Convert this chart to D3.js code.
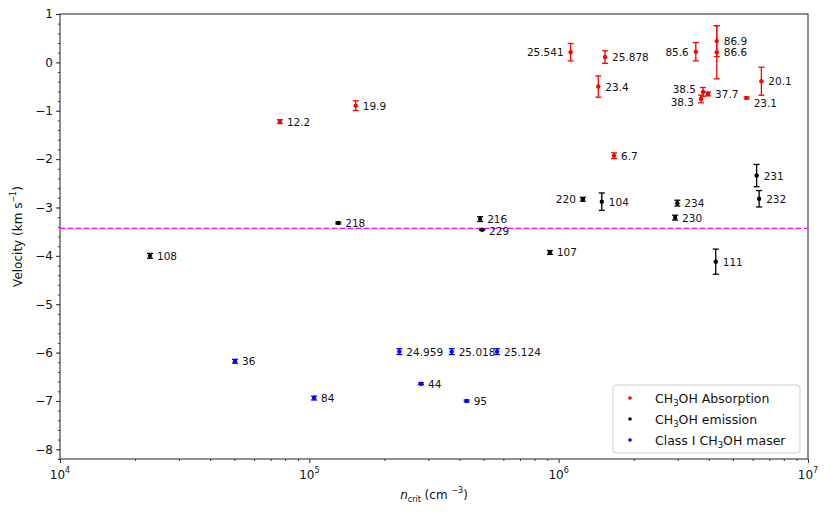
<!DOCTYPE html>
<html>
<head>
<meta charset="utf-8">
<script src="https://cdn.jsdelivr.net/npm/d3@7"></script>
<style>
  body { margin: 0; background: #fff; }
  text { font-family: "DejaVu Sans", sans-serif; }
</style>
</head>
<body>
<div id="chart"></div>
<script>
// ---- data ----
// log10 of critical density, velocity, error, label
const absLogN = [6.048, 6.186, 6.159, 6.55, 6.634, 6.634, 6.813, 6.754, 6.579, 6.571, 6.599, 6.222, 5.186, 4.882];
const absVel  = [0.21, 0.11, -0.50, 0.22, 0.44, 0.21, -0.39, -0.735, -0.61, -0.756, -0.653, -1.93, -0.895, -1.225];
const absErr  = [0.18, 0.13, 0.22, 0.19, 0.32, 0.55, 0.29, 0.02, 0.09, 0.08, 0.04, 0.06, 0.10, 0.04];
const absLab  = ['25.541', '25.878', '23.4', '85.6', '86.9', '86.6', '20.1', '23.1', '38.5', '38.3', '37.7', '6.7', '19.9', '12.2'];

const emiLogN = [5.116, 4.361, 5.685, 5.693, 5.965, 6.097, 6.173, 6.476, 6.467, 6.794, 6.804, 6.63];
const emiVel  = [-3.32, -4.0, -3.24, -3.46, -3.93, -2.83, -2.88, -2.91, -3.21, -2.34, -2.82, -4.12];
const emiErr  = [0.02, 0.05, 0.05, 0.01, 0.04, 0.04, 0.18, 0.06, 0.05, 0.23, 0.17, 0.26];
const emiLab  = ['218', '108', '216', '229', '107', '220', '104', '234', '230', '231', '232', '111'];

const masLogN = [4.702, 5.019, 5.361, 5.571, 5.753, 5.448, 5.631];
const masVel  = [-6.18, -6.94, -5.98, -5.98, -5.98, -6.645, -7.0];
const masErr  = [0.04, 0.04, 0.06, 0.06, 0.06, 0.02, 0.02];
const masLab  = ['36', '84', '24.959', '25.018', '25.124', '44', '95'];

const systemicVel = -3.43;
const yTicks = [1, 0, -1, -2, -3, -4, -5, -6, -7, -8];
const xTicks = [4, 5, 6, 7];

// labels that sit on the left of their point, and a few nudged up/down
const leftLabels = ['25.541', '85.6', '220', '38.5', '38.3'];
const labelNudge = { '23.1': 5, '38.5': -3, '38.3': 3, '229': 1 };

const width = 830, height = 514;
const margin = { left: 60, right: 22, top: 14, bottom: 55 };

const svg = d3.select('#chart').append('svg')
    .attr('width', width).attr('height', height);

const x = d3.scaleLog().domain([1e4, 1e7]).range([margin.left, width - margin.right]);
const y = d3.scaleLinear().domain([-8.2, 1]).range([height - margin.bottom, margin.top]);

// axes
const xMinor = [];
for (let e = 4; e < 7; e++) for (let k = 2; k <= 9; k++) xMinor.push(k * Math.pow(10, e));
const yMinor = d3.range(-8.2, 1.0001, 0.2).map(v => Math.round(v * 10) / 10);

svg.append('g').attr('transform', `translate(0,${y(-8.2)})`)
    .call(d3.axisBottom(x).tickValues(xMinor).tickSize(2).tickFormat(''));
svg.append('g').attr('transform', `translate(0,${y(-8.2)})`)
    .call(d3.axisBottom(x).tickValues(xTicks.map(e => Math.pow(10, e))).tickSize(4).tickFormat(''));
xTicks.forEach(e => {
  const t = svg.append('text')
      .attr('x', x(Math.pow(10, e))).attr('y', y(-8.2) + 20)
      .attr('text-anchor', 'middle').attr('font-size', 12).attr('fill', '#111');
  t.append('tspan').text('10');
  t.append('tspan').attr('font-size', 8).attr('dy', -6).text(e);
});

svg.append('g').attr('transform', `translate(${margin.left},0)`)
    .call(d3.axisLeft(y).tickValues(yMinor).tickSize(2).tickFormat(''));
svg.append('g').attr('transform', `translate(${margin.left},0)`)
    .call(d3.axisLeft(y).tickValues(yTicks).tickSize(4)
      .tickFormat(d => d < 0 ? '\u2212' + Math.abs(d) : d))
    .call(g => g.selectAll('text').attr('font-size', 12).attr('fill', '#111')
      .attr('font-family', '"DejaVu Sans", sans-serif'));

svg.selectAll('.domain').remove();
svg.selectAll('.tick line').attr('stroke', '#333');

// frame
svg.append('rect')
    .attr('x', margin.left).attr('y', margin.top)
    .attr('width', width - margin.right - margin.left)
    .attr('height', y(-8.2) - margin.top)
    .attr('fill', 'none').attr('stroke', '#444').attr('stroke-width', 1.2);

// systemic velocity line
svg.append('line')
    .attr('x1', margin.left).attr('x2', width - margin.right)
    .attr('y1', y(systemicVel)).attr('y2', y(systemicVel))
    .attr('stroke', '#ff00ff').attr('stroke-width', 1.2).attr('stroke-dasharray', '5,3');

// series
function drawSeries(logN, vel, err, lab, color) {
  const pts = logN.map((n, i) => ({ n: Math.pow(10, n), v: vel[i], e: err[i], l: lab[i] }));
  const g = svg.append('g');
  const eb = g.selectAll('g.eb').data(pts).enter().append('g')
      .attr('stroke', color).attr('stroke-width', 1.3);
  eb.append('line')
      .attr('x1', d => x(d.n)).attr('x2', d => x(d.n))
      .attr('y1', d => y(d.v + d.e)).attr('y2', d => y(d.v - d.e));
  [1, -1].forEach(s => {
    eb.append('line')
        .attr('x1', d => x(d.n) - 3).attr('x2', d => x(d.n) + 3)
        .attr('y1', d => y(d.v + s * d.e)).attr('y2', d => y(d.v + s * d.e));
  });
  g.selectAll('circle').data(pts).enter().append('circle')
      .attr('cx', d => x(d.n)).attr('cy', d => y(d.v)).attr('r', 2.2)
      .attr('fill', color);
  g.selectAll('text').data(pts).enter().append('text')
      .attr('x', d => leftLabels.includes(d.l) ? x(d.n) - 7 : x(d.n) + 7)
      .attr('y', d => y(d.v) + 4 + (labelNudge[d.l] || 0))
      .attr('text-anchor', d => leftLabels.includes(d.l) ? 'end' : 'start')
      .attr('font-size', 10.5).attr('fill', '#111')
      .text(d => d.l);
}
drawSeries(absLogN, absVel, absErr, absLab, '#ff0000');
drawSeries(emiLogN, emiVel, emiErr, emiLab, '#000000');
drawSeries(masLogN, masVel, masErr, masLab, '#0000ff');

// axis titles
const xt = svg.append('text')
    .attr('x', (margin.left + width - margin.right) / 2).attr('y', 499)
    .attr('text-anchor', 'middle').attr('font-size', 12).attr('fill', '#111');
xt.append('tspan').attr('font-style', 'italic').text('n');
xt.append('tspan').attr('font-size', 8).attr('dy', 3).text('crit');
xt.append('tspan').attr('dy', -3).text(' (cm ');
xt.append('tspan').attr('font-size', 8).attr('dy', -6).text('\u22123');
xt.append('tspan').attr('dy', 6).text(')');

const yt = svg.append('text')
    .attr('transform', `translate(22,${(margin.top + y(-8.2)) / 2}) rotate(-90)`)
    .attr('text-anchor', 'middle').attr('font-size', 12).attr('fill', '#111');
yt.append('tspan').text('Velocity (km s');
yt.append('tspan').attr('font-size', 8).attr('dy', -6).text('\u22121');
yt.append('tspan').attr('dy', 6).text(')');

// legend
const legendItems = [
  { c: '#ff0000', pre: 'CH', post: 'OH Absorption' },
  { c: '#000000', pre: 'CH', post: 'OH emission' },
  { c: '#0000ff', pre: 'Class I CH', post: 'OH maser' }
];
const lg = svg.append('g').attr('transform', 'translate(613,385)');
lg.append('rect').attr('width', 187).attr('height', 68).attr('rx', 3)
    .attr('fill', '#fff').attr('stroke', '#ccc');
legendItems.forEach((it, i) => {
  const yy = 13 + i * 21;
  lg.append('circle').attr('cx', 17).attr('cy', yy).attr('r', 1.8).attr('fill', it.c);
  const t = lg.append('text').attr('x', 42).attr('y', yy + 4.5)
      .attr('font-size', 12.5).attr('fill', '#111');
  t.append('tspan').text(it.pre);
  t.append('tspan').attr('font-size', 8.5).attr('dy', 3).text('3');
  t.append('tspan').attr('dy', -3).text(it.post);
});
</script>
</body>
</html>
